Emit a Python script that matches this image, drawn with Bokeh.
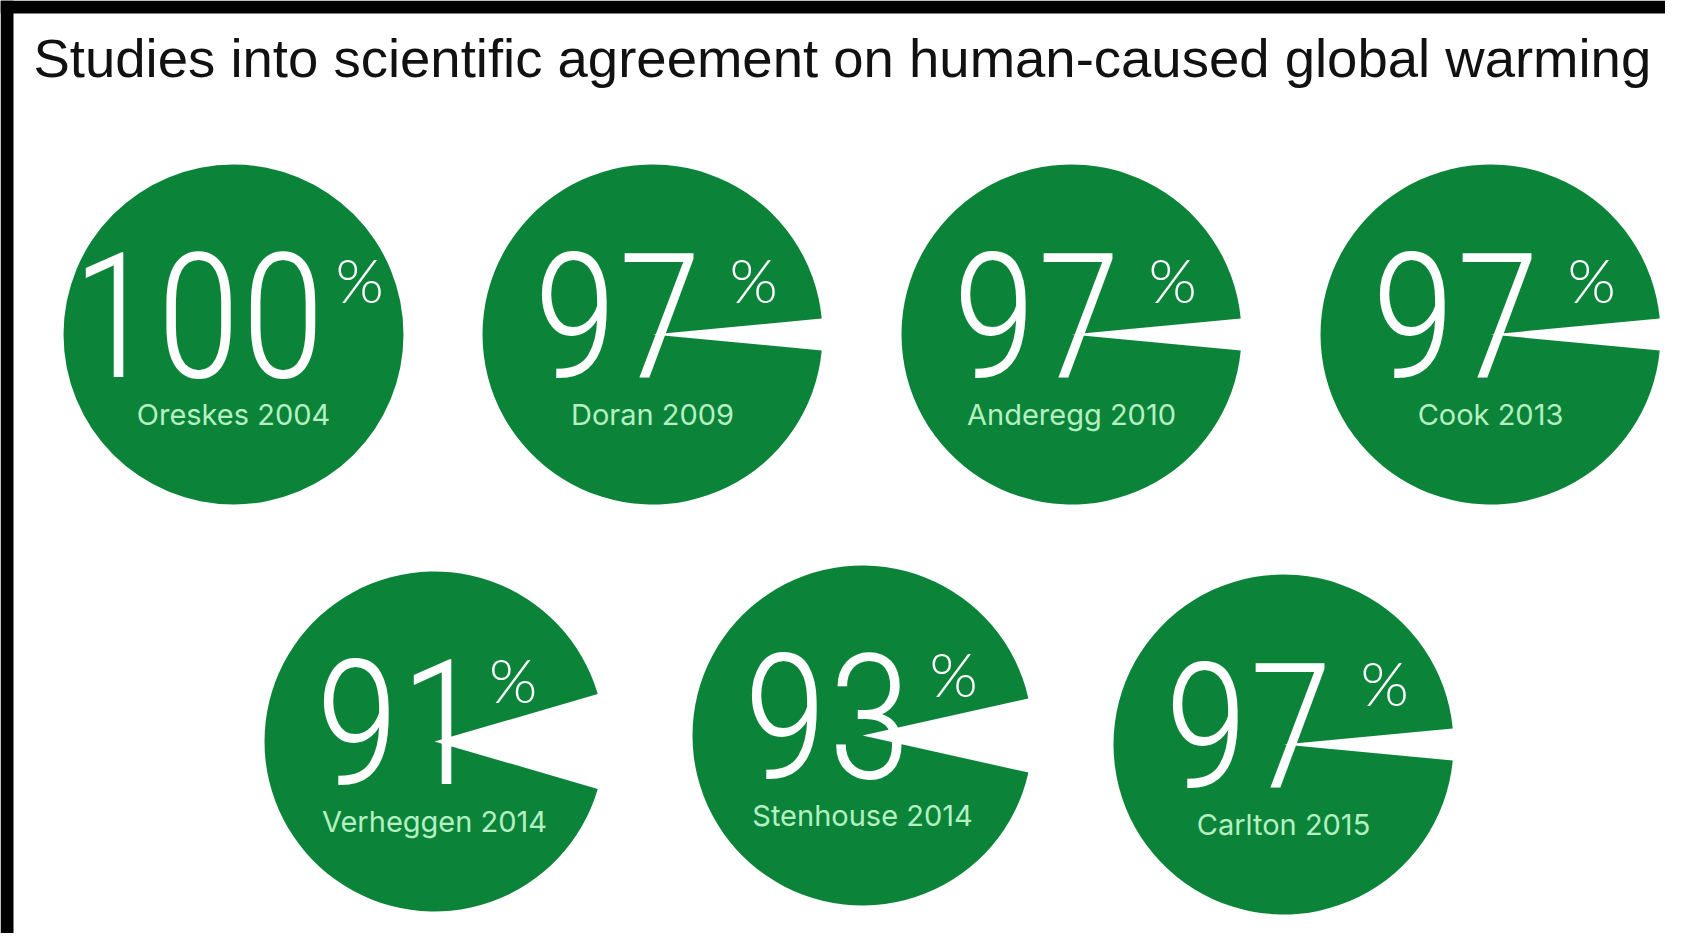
import math
from bokeh.plotting import figure
from bokeh.models import Range1d, ColumnDataSource
from bokeh.core.properties import value
from bokeh.embed import file_html
from bokeh.resources import INLINE

# ---- data ----
title_text = "Studies into scientific agreement on human-caused global warming"
studies = ["Oreskes 2004", "Doran 2009", "Anderegg 2010", "Cook 2013",
           "Verheggen 2014", "Stenhouse 2014", "Carlton 2015"]
agreement = [100, 97, 97, 97, 91, 93, 97]

# ---- layout constants ----
W, H = 1665, 933
ROW1_X = [233, 652, 1071, 1490]
ROW2_X = [434, 862, 1283]
ROW1_Y = [334, 334, 334, 334]
ROW2_Y = [741, 735, 744]
PCT_DY = [-56, -63]          # vertical offset of the % sign per row
R = 170
DIGIT_ADV = {"1": 50, "3": 75}   # approximate advance of narrow digits, px
DEFAULT_ADV = 95

GREEN = "#0b8439"
LABEL = "#b4f0c2"
NUM_FONT = "Roboto Condensed Light"
PCT_FONT = "Lato Light"

p = figure(width=W, height=H, x_range=Range1d(0, W), y_range=Range1d(H, 0),
           output_backend="svg", toolbar_location=None, min_border=0)
p.axis.visible = False
p.grid.visible = False
p.outline_line_color = None
p.background_fill_color = "white"
p.border_fill_color = "white"

# black frame edges seen in the reference picture
p.quad(left=[0, 0], right=[W, 13], bottom=[13, H], top=[0, 0],
       fill_color="black", line_color=None)

cx = ROW1_X + ROW2_X
cy = ROW1_Y + ROW2_Y
row = [0] * len(ROW1_X) + [1] * len(ROW2_X)

half = [(100 - v) / 100 * math.pi for v in agreement]
num_w = [sum(DIGIT_ADV.get(d, DEFAULT_ADV) for d in str(v)) for v in agreement]
src = ColumnDataSource(dict(
    x=cx, y=cy,
    start=half,
    end=[2 * math.pi - h for h in half],
    num=[str(v) for v in agreement],
    num_x=[c - 35 for c in cx],
    num_y=[c - 20 for c in cy],
    pct=["%"] * len(studies),
    pct_x=[c - 18 + w / 2 for c, w in zip(cx, num_w)],
    pct_y=[c + PCT_DY[r] for c, r in zip(cy, row)],
    lab=studies,
    lab_y=[c + 80 for c in cy],
))

p.wedge(x="x", y="y", radius=R, start_angle="start", end_angle="end",
        fill_color=GREEN, line_color=None, source=src)

p.text(x="num_x", y="num_y", text="num", source=src, text_align="center",
       text_baseline="middle", text_font_size="174px", text_color="white",
       text_font=value(NUM_FONT))
p.text(x="pct_x", y="pct_y", text="pct", source=src, text_align="left",
       text_baseline="middle", text_font_size="62px", text_color="white",
       text_font=value(PCT_FONT))
p.text(x="x", y="lab_y", text="lab", source=src, text_align="center",
       text_baseline="middle", text_font_size="29px", text_color=LABEL,
       text_font=value("Inter"))

p.text(x=[33], y=[58], text=[title_text], text_align="left", text_baseline="middle",
       text_font_size="54.5px", text_color="#111111", text_font=value("Liberation Sans"))

open("out.html", "w").write(file_html(p, INLINE))
